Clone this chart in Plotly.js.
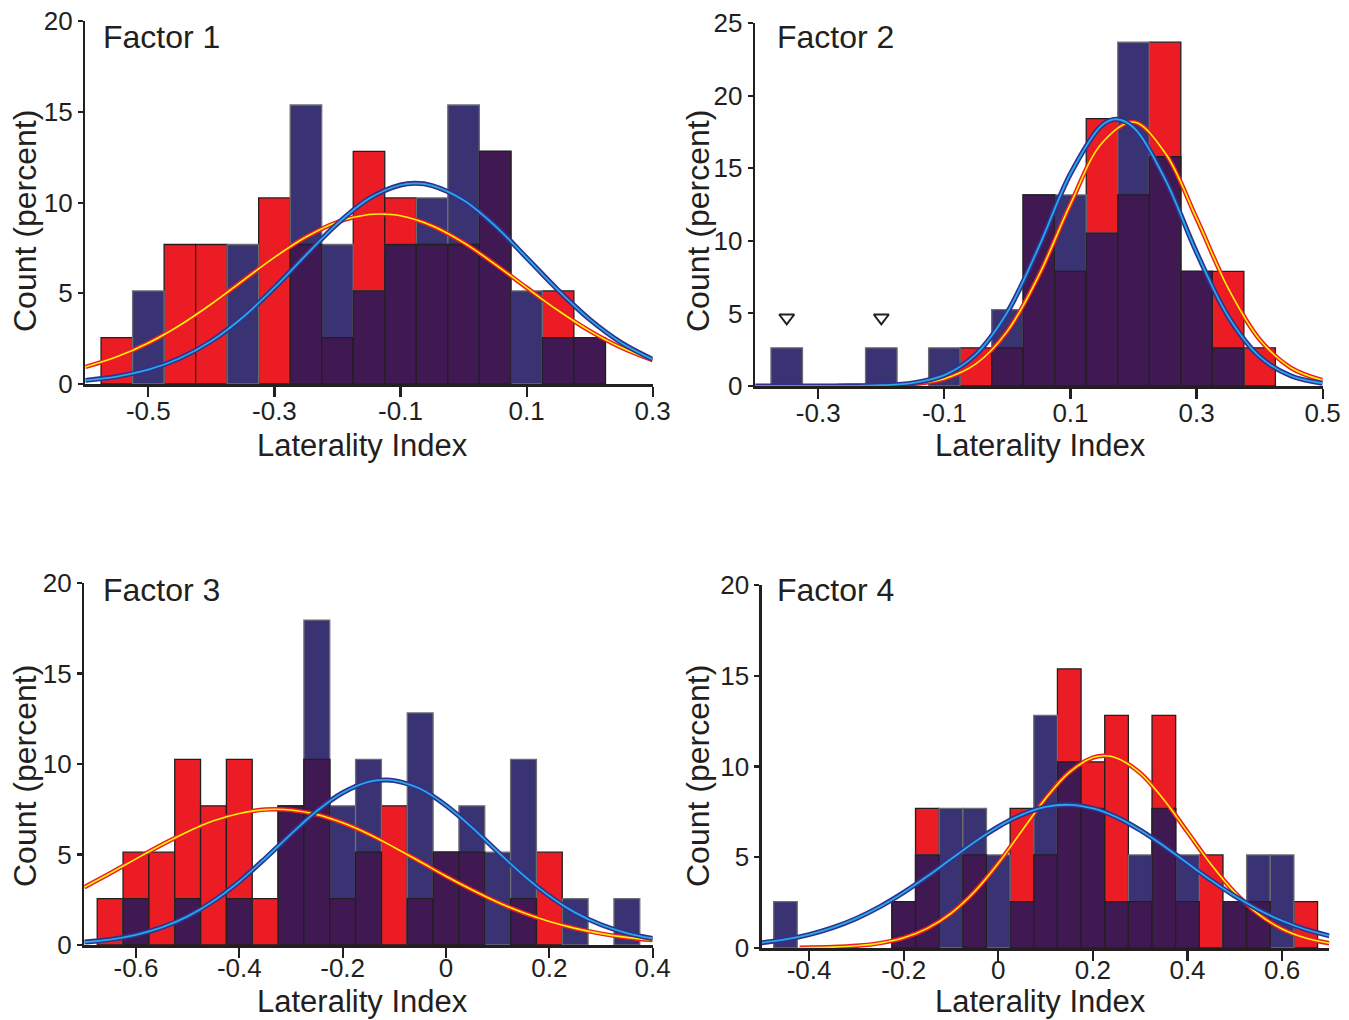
<!DOCTYPE html>
<html><head><meta charset="utf-8">
<script src="https://cdn.plot.ly/plotly-3.0.1.min.js"></script>
<style>html,body{margin:0;padding:0;background:#fff}#chart{width:1349px;height:1020px}</style>
</head><body><div id="chart"></div>
<script>
// ---------- Factor 1 ----------
const bins1 = [-0.55,-0.50,-0.45,-0.40,-0.35,-0.30,-0.25,-0.20,-0.15,-0.10,-0.05,0.00,0.05,0.10,0.15,0.20];
const red1  = [2.56,0,7.69,7.69,0,10.26,7.69,2.56,12.82,10.26,7.69,7.69,12.82,0,5.13,2.56];
const blue1 = [0,5.13,0,0,7.69,0,15.38,7.69,5.13,7.69,10.26,15.38,12.82,5.13,2.56,2.56];
const redFit1X  = [-0.6,-0.55,-0.5,-0.45,-0.4,-0.35,-0.3,-0.25,-0.2,-0.15,-0.1325,-0.1,-0.05,0,0.05,0.1,0.15,0.2,0.25,0.3];
const redFit1Y  = [0.94,1.50,2.26,3.24,4.41,5.70,6.98,8.10,8.93,9.34,9.37,9.27,8.72,7.79,6.60,5.31,4.05,2.93,2.01,1.31];
const blueFit1X = [-0.6,-0.55,-0.5,-0.45,-0.4,-0.35,-0.3,-0.25,-0.2,-0.15,-0.1,-0.077,-0.05,0,0.05,0.1,0.15,0.2,0.25,0.3];
const blueFit1Y = [0.20,0.41,0.79,1.42,2.37,3.68,5.31,7.11,8.84,10.22,10.97,11.06,10.94,10.13,8.72,6.96,5.17,3.56,2.28,1.36];

// ---------- Factor 2 ----------
const bins2 = [-0.35,-0.30,-0.25,-0.20,-0.15,-0.10,-0.05,0.00,0.05,0.10,0.15,0.20,0.25,0.30,0.35,0.40];
const red2  = [0,0,0,0,0,0,2.63,2.63,13.16,7.89,18.42,13.16,23.68,7.89,7.89,2.63];
const blue2 = [2.63,0,0,2.63,0,2.63,0,5.26,13.16,13.16,10.53,23.68,15.79,7.89,2.63,0];
const redFit2X  = [-0.27,-0.2,-0.15,-0.1,-0.05,0,0.05,0.1,0.15,0.2,0.25,0.3,0.35,0.4,0.45,0.5];
const redFit2Y  = [0.00,0.03,0.13,0.50,1.52,3.78,7.63,12.53,16.74,18.18,16.06,11.54,6.74,3.20,1.24,0.39];
const blueFit2X = [-0.4,-0.35,-0.3,-0.25,-0.2,-0.15,-0.1,-0.05,0,0.05,0.1,0.15,0.173,0.2,0.25,0.3,0.35,0.4,0.45,0.5];
const blueFit2Y = [0.00,0.00,0.00,0.01,0.05,0.21,0.75,2.18,5.09,9.60,14.62,17.96,18.37,17.80,14.25,9.20,4.80,2.02,0.69,0.19];
const outlierX = [-0.35,-0.20];
const outlierY = [4.7,4.7];

// ---------- Factor 3 ----------
const bins3 = [-0.65,-0.60,-0.55,-0.50,-0.45,-0.40,-0.35,-0.30,-0.25,-0.20,-0.15,-0.10,-0.05,0.00,0.05,0.10,0.15,0.20,0.25,0.30,0.35];
const red3  = [2.56,5.13,5.13,10.26,7.69,10.26,2.56,7.69,10.26,2.56,5.13,7.69,2.56,5.13,5.13,0,2.56,5.13,0,0,0];
const blue3 = [0,2.56,0,2.56,0,2.56,0,7.69,17.95,7.69,10.26,0,12.82,5.13,7.69,5.13,10.26,0,2.56,0,2.56];
const redFit3X  = [-0.7,-0.65,-0.6,-0.55,-0.5,-0.45,-0.4,-0.35,-0.33,-0.3,-0.25,-0.2,-0.15,-0.1,-0.05,0,0.05,0.1,0.15,0.2,0.25,0.3,0.35,0.4];
const redFit3Y  = [3.19,3.96,4.76,5.54,6.26,6.86,7.27,7.48,7.50,7.46,7.21,6.75,6.13,5.39,4.60,3.80,3.05,2.36,1.78,1.30,0.92,0.63,0.42,0.27];
const blueFit3X = [-0.7,-0.65,-0.6,-0.55,-0.5,-0.45,-0.4,-0.35,-0.3,-0.25,-0.2,-0.15,-0.118,-0.1,-0.05,0,0.05,0.1,0.15,0.2,0.25,0.3,0.35,0.4];
const blueFit3Y = [0.16,0.30,0.56,0.97,1.58,2.43,3.51,4.78,6.13,7.40,8.41,9.01,9.12,9.08,8.63,7.71,6.50,5.15,3.85,2.71,1.79,1.12,0.66,0.36];

// ---------- Factor 4 ----------
const bins4 = [-0.45,-0.40,-0.35,-0.30,-0.25,-0.20,-0.15,-0.10,-0.05,0.00,0.05,0.10,0.15,0.20,0.25,0.30,0.35,0.40,0.45,0.50,0.55,0.60,0.65];
const red4  = [0,0,0,0,0,2.56,7.69,0,5.13,0,7.69,5.13,15.38,10.26,12.82,2.56,12.82,2.56,5.13,2.56,2.56,0,2.56];
const blue4 = [2.56,0,0,0,0,2.56,5.13,7.69,7.69,5.13,2.56,12.82,10.26,7.69,2.56,5.13,7.69,5.13,0,2.56,5.13,5.13,0];
const redFit4X  = [-0.42,-0.35,-0.3,-0.25,-0.2,-0.15,-0.1,-0.05,0,0.05,0.1,0.15,0.2,0.224,0.25,0.3,0.35,0.4,0.45,0.5,0.55,0.6,0.65,0.7];
const redFit4Y  = [0.01,0.05,0.12,0.27,0.56,1.08,1.91,3.11,4.67,6.46,8.24,9.68,10.49,10.59,10.47,9.64,8.17,6.39,4.60,3.05,1.87,1.05,0.55,0.26];
const blueFit4X = [-0.5,-0.45,-0.4,-0.35,-0.3,-0.25,-0.2,-0.15,-0.1,-0.05,0,0.05,0.1,0.15,0.2,0.25,0.3,0.35,0.4,0.45,0.5,0.55,0.6,0.65,0.7];
const blueFit4Y = [0.29,0.47,0.74,1.12,1.63,2.28,3.06,3.95,4.90,5.84,6.68,7.35,7.77,7.89,7.69,7.21,6.49,5.62,4.67,3.73,2.86,2.11,1.50,1.02,0.67];

// ---------- tick labels ----------
const xTicks1 = [-0.5,-0.3,-0.1,0.1,0.3];  const xText1 = ['-0.5','-0.3','-0.1','0.1','0.3'];
const xTicks2 = [-0.3,-0.1,0.1,0.3,0.5];   const xText2 = ['-0.3','-0.1','0.1','0.3','0.5'];
const xTicks3 = [-0.6,-0.4,-0.2,0,0.2,0.4]; const xText3 = ['-0.6','-0.4','-0.2','0','0.2','0.4'];
const xTicks4 = [-0.4,-0.2,0,0.2,0.4,0.6]; const xText4 = ['-0.4','-0.2','0','0.2','0.4','0.6'];
const titles = ['Factor 1','Factor 2','Factor 3','Factor 4'];
const xTitle = 'Laterality Index';
const yTitle = 'Count (percent)';

const FONT = 'Liberation Sans, Arial, Helvetica, sans-serif';
const INK = '#231f20';
const RED = '#ec1c24', NAVY = '#393273', PURPLE = '#401852';

const panels = [
  {bins:bins1, red:red1, blue:blue1, rX:redFit1X, rY:redFit1Y, bX:blueFit1X, bY:blueFit1Y,
   xr:[-0.6,0.3], yr:[0,20], xt:xTicks1, xs:xText1, yt:[0,5,10,15,20],
   xd:[85.3,652.7], yd:[384,21.2], so:-8},
  {bins:bins2, red:red2, blue:blue2, rX:redFit2X, rY:redFit2Y, bX:blueFit2X, bY:blueFit2Y,
   xr:[-0.4,0.5], yr:[0,25], xt:xTicks2, xs:xText2, yt:[0,5,10,15,20,25],
   xd:[755.2,1322.7], yd:[386,23], so:-8},
  {bins:bins3, red:red3, blue:blue3, rX:redFit3X, rY:redFit3Y, bX:blueFit3X, bY:blueFit3Y,
   xr:[-0.7,0.4], yr:[0,20], xt:xTicks3, xs:xText3, yt:[0,5,10,15,20],
   xd:[84.3,652.7], yd:[945,583], so:-12},
  {bins:bins4, red:red4, blue:blue4, rX:redFit4X, rY:redFit4Y, bX:blueFit4X, bY:blueFit4Y,
   xr:[-0.5,0.7], yr:[0,20], xt:xTicks4, xs:xText4, yt:[0,5,10,15,20],
   xd:[761.8,1329.4], yd:[948,585], so:-13}
];

const W = 1349, H = 1020;
const traces = [];
const layout = {
  width: W, height: H, margin:{l:0,r:0,t:0,b:0},
  paper_bgcolor:'#ffffff', plot_bgcolor:'rgba(0,0,0,0)',
  showlegend:false, barmode:'overlay', bargap:0,
  font:{family:FONT, color:INK},
  annotations:[]
};

const nz = a => a.map(v => v > 0 ? v : null);

panels.forEach((p, i) => {
  const n = i === 0 ? '' : String(i+1);
  const xa = 'x' + n, ya = 'y' + n;
  const overlap = p.bins.map((_, k) => (p.red[k] > 0 && p.blue[k] > 0) ? Math.min(p.red[k], p.blue[k]) : null);
  traces.push({type:'bar', x:p.bins, y:nz(p.red), width:0.05, xaxis:xa, yaxis:ya,
    marker:{color:RED, line:{color:INK, width:1.3}}, hoverinfo:'skip'});
  traces.push({type:'bar', x:p.bins, y:nz(p.blue), width:0.05, xaxis:xa, yaxis:ya,
    marker:{color:NAVY, line:{color:'#6d6e71', width:1.3}}, hoverinfo:'skip'});
  traces.push({type:'bar', x:p.bins, y:overlap, width:0.05, xaxis:xa, yaxis:ya,
    marker:{color:PURPLE, line:{color:INK, width:1.3}}, hoverinfo:'skip'});
  traces.push({type:'scatter', mode:'lines', x:p.rX, y:p.rY, xaxis:xa, yaxis:ya,
    line:{color:RED, width:4.5, shape:'spline', smoothing:1}, hoverinfo:'skip'});
  traces.push({type:'scatter', mode:'lines', x:p.rX, y:p.rY, xaxis:xa, yaxis:ya,
    line:{color:'#fff200', width:1.6, shape:'spline', smoothing:1}, hoverinfo:'skip'});
  traces.push({type:'scatter', mode:'lines', x:p.bX, y:p.bY, xaxis:xa, yaxis:ya,
    line:{color:'#2e3192', width:5, shape:'spline', smoothing:1}, hoverinfo:'skip'});
  traces.push({type:'scatter', mode:'lines', x:p.bX, y:p.bY, xaxis:xa, yaxis:ya,
    line:{color:'#27aae1', width:1.8, shape:'spline', smoothing:1}, hoverinfo:'skip'});

  const axCommon = {showline:true, linecolor:INK, linewidth:2.5, ticks:'outside', tickcolor:INK,
    tickwidth:2.2, showgrid:false, zeroline:false, fixedrange:true,
    tickfont:{family:FONT, size:26, color:INK}};
  layout['xaxis' + n] = Object.assign({}, axCommon, {
    anchor: ya, domain:[p.xd[0]/W, p.xd[1]/W], range:p.xr,
    tickmode:'array', tickvals:p.xt, ticktext:p.xs, ticklen:10, ticklabelstandoff:p.so});
  layout['yaxis' + n] = Object.assign({}, axCommon, {
    anchor: xa, domain:[1 - p.yd[0]/H, 1 - p.yd[1]/H], range:p.yr,
    tickmode:'array', tickvals:p.yt, ticktext:p.yt.map(String), ticklen:5});

  const fx = (i % 2 === 0) ? 101 : 775;
  const fy = (i < 2) ? 37 : 590;
  layout.annotations.push({xref:'paper', yref:'paper', x:fx/W, y:1-fy/H, xanchor:'left', yanchor:'middle',
    text:titles[i], showarrow:false, font:{family:FONT, size:32, color:INK}});
  const tx = (i % 2 === 0) ? 362 : 1040;
  const ty = (i < 2) ? 445 : 1001;
  layout.annotations.push({xref:'paper', yref:'paper', x:tx/W, y:1-ty/H, xanchor:'center', yanchor:'middle',
    text:xTitle, showarrow:false, font:{family:FONT, size:31, color:INK}});
  const yx = (i % 2 === 0) ? 25 : 698;
  const yy = (i < 2) ? 221 : 776;
  layout.annotations.push({xref:'paper', yref:'paper', x:yx/W, y:1-yy/H, xanchor:'center', yanchor:'middle',
    text:yTitle, textangle:-90, showarrow:false, font:{family:FONT, size:32, color:INK}});
});

traces.push({type:'scatter', mode:'markers', x:outlierX, y:outlierY, xaxis:'x2', yaxis:'y2',
  marker:{symbol:'triangle-down-open', size:13, color:INK, line:{width:2, color:INK}}, hoverinfo:'skip'});

Plotly.newPlot('chart', traces, layout, {staticPlot:true, displayModeBar:false});
</script>
</body></html>
